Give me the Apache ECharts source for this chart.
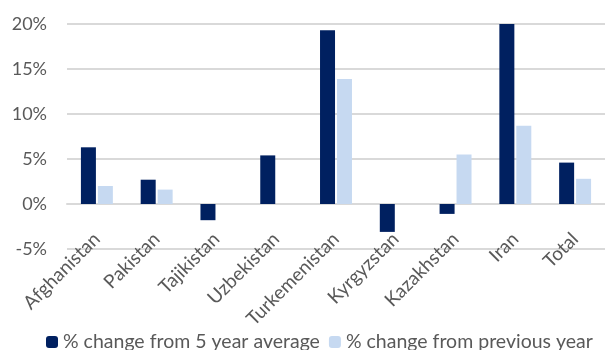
<!DOCTYPE html>
<html>
<head>
<meta charset="utf-8">
<script src="https://cdn.jsdelivr.net/npm/echarts@6/dist/echarts.min.js"></script>
<style>
  html, body { margin: 0; padding: 0; background: #fff; }
  #chart { width: 605px; height: 350px; }
</style>
</head>
<body>
<div id="chart"></div>
<script>
const countries = ['Afghanistan', 'Pakistan', 'Tajikistan', 'Uzbekistan', 'Turkemenistan', 'Kyrgyzstan', 'Kazakhstan', 'Iran', 'Total'];
const fiveYearAvg = [6.3, 2.7, -1.8, 5.4, 19.3, -3.1, -1.1, 20.0, 4.6];
const prevYear = [2.0, 1.6, null, null, 13.9, null, 5.5, 8.7, 2.8];
const seriesNames = ['% change from 5 year average', '% change from previous year'];

const font = 'Lato';
const gray = '#595959';

const chart = echarts.init(document.getElementById('chart'));
chart.setOption({
  animation: false,
  textStyle: { fontFamily: font },
  grid: { left: 67, top: 24, height: 225, width: 547 },
  legend: {
    left: 41, top: 327, width: 800,
    itemWidth: 12, itemHeight: 12, itemGap: 9,
    textStyle: { fontSize: 19.5, color: gray, fontFamily: font },
    data: seriesNames
  },
  xAxis: {
    type: 'category',
    data: countries,
    offset: -45,
    axisLine: { onZero: false, lineStyle: { color: '#d9d9d9', width: 2 } },
    axisTick: { show: false },
    axisLabel: { rotate: 45, interval: 0, margin: 32, fontSize: 19, color: gray }
  },
  yAxis: {
    type: 'value',
    min: -5, max: 20, interval: 5,
    axisLabel: { formatter: '{value}%', fontSize: 18, color: gray, margin: 20 },
    splitLine: { lineStyle: { color: '#d9d9d9', width: 2 } },
    axisLine: { show: false },
    axisTick: { show: false }
  },
  series: [
    { name: seriesNames[0], type: 'bar', data: fiveYearAvg, barWidth: 15, barGap: '13%',
      itemStyle: { color: '#002060' } },
    { name: seriesNames[1], type: 'bar', data: prevYear, barWidth: 15,
      itemStyle: { color: '#c6d9f1' } }
  ]
});
</script>
</body>
</html>
